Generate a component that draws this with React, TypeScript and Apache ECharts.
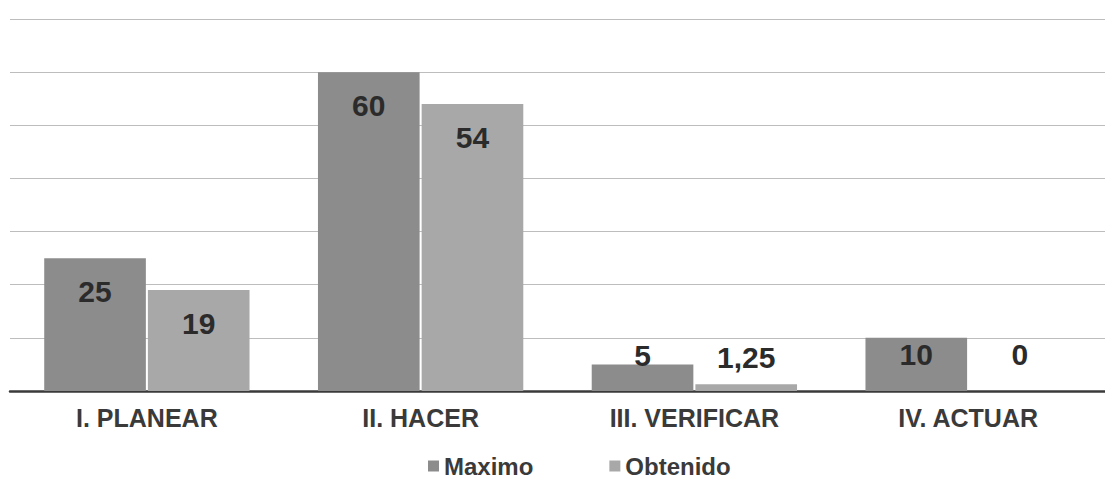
import React, { useEffect, useRef } from "react";
import * as echarts from "echarts";

const categories = ["I. PLANEAR", "II. HACER", "III. VERIFICAR", "IV. ACTUAR"];
const maximo = [25, 60, 5, 10];
const obtenido = [19, 54, 1.25, 0];
const seriesNames = ["Maximo", "Obtenido"];

const FONT = "'Liberation Sans', Arial, sans-serif";

function fmt(v: number) {
  return String(v).replace(".", ",");
}

// label placement per value (Excel "inside end" look, small bars pushed above)
function labelFor(v: number) {
  const base = {
    show: true,
    fontFamily: FONT,
    fontWeight: "bold" as const,
    fontSize: 30,
    color: "#2b2b2b",
    formatter: () => fmt(v),
  };
  if (v >= 15) return { ...base, position: "insideTop", distance: 18 };
  if (v >= 8) return { ...base, position: "insideTop", distance: 2 };
  if (v >= 4) return { ...base, position: "top", distance: -6 };
  if (v > 0) return { ...base, position: "top", distance: 12 };
  return { ...base, position: "top", distance: 22 };
}

export default function App() {
  const ref = useRef<HTMLDivElement>(null);
  useEffect(() => {
    if (!ref.current) return;
    const chart = echarts.init(ref.current, null, { renderer: "svg" });
    chart.setOption({
      animation: false,
      backgroundColor: "#ffffff",
      grid: { left: 10, right: -5, top: 19, bottom: 90, containLabel: false },
      legend: {
        left: 423,
        top: 449,
        itemWidth: 11,
        itemHeight: 11,
        itemGap: 76,
        icon: "rect",
        textStyle: { fontFamily: FONT, fontWeight: "bold", fontSize: 24, color: "#3a3a3a" },
        data: seriesNames,
      },
      xAxis: {
        type: "category",
        data: categories,
        axisLine: { show: true, lineStyle: { color: "#3a3a3a", width: 2.5 } },
        axisTick: { show: false },
        axisLabel: {
          margin: 14,
          fontFamily: FONT,
          fontWeight: "bold",
          fontSize: 25,
          color: "#3a3a3a",
        },
      },
      yAxis: {
        type: "value",
        min: 0,
        max: 70,
        interval: 10,
        axisLabel: { show: false },
        axisLine: { show: false },
        axisTick: { show: false },
        splitLine: { lineStyle: { color: "#bdbdbd", width: 1 } },
      },
      series: [
        {
          name: seriesNames[0],
          type: "bar",
          barGap: "2%",
          barCategoryGap: "25%",
          itemStyle: { color: "#8c8c8c" },
          data: maximo.map((v) => ({ value: v, label: labelFor(v) })),
        },
        {
          name: seriesNames[1],
          type: "bar",
          barGap: "2%",
          barCategoryGap: "25%",
          itemStyle: { color: "#a8a8a8" },
          data: obtenido.map((v) => ({ value: v, label: labelFor(v) })),
        },
      ],
    });
    return () => chart.dispose();
  }, []);
  return (
    <div
      ref={ref}
      style={{ position: "absolute", left: 0, top: 0, width: 1105, height: 481 }}
    />
  );
}
